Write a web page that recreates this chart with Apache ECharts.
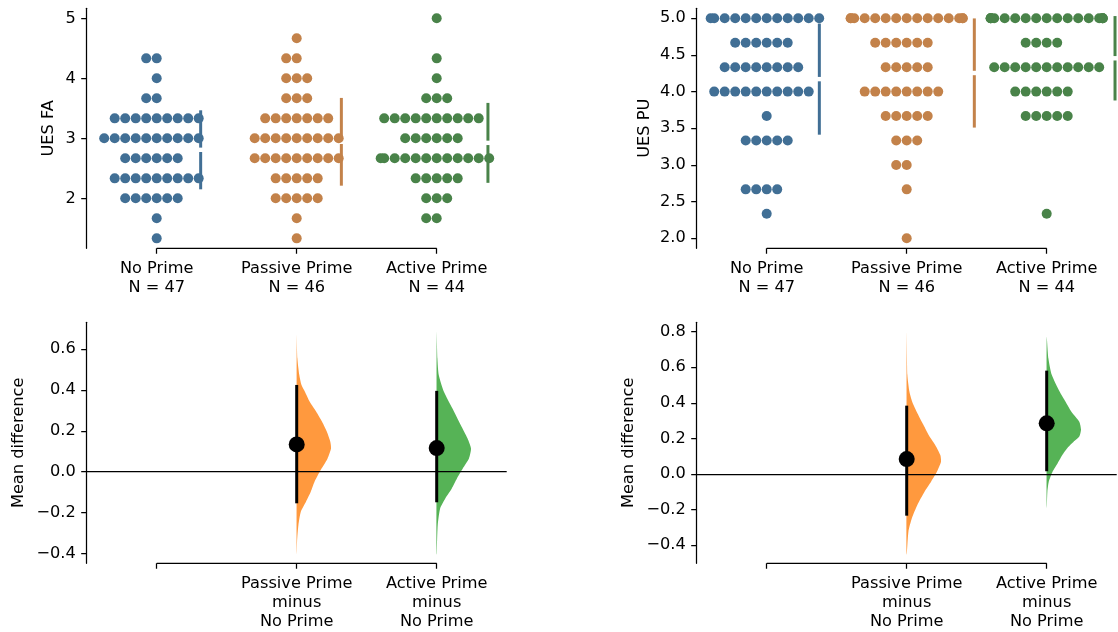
<!DOCTYPE html>
<html>
<head>
<meta charset="utf-8">
<script src="https://cdn.jsdelivr.net/npm/echarts@6/dist/echarts.min.js"></script>
<style>
  html, body { margin: 0; padding: 0; background: #fff; }
  #chart { width: 1118px; height: 632px; }
</style>
</head>
<body>
<div id="chart"></div>
<script>
// ---- data -------------------------------------------------------------
const groups = ['No Prime', 'Passive Prime', 'Active Prime'];

// UES FA: score levels (mean of three items) and number of participants per level
const faLevels  = [1.333, 1.667, 2, 2.333, 2.667, 3, 3.333, 3.667, 4, 4.333, 4.667, 5];
const faNoPrime = [1, 1, 6, 9, 6, 10, 9, 2, 1, 2, 0, 0];
const faPassive = [1, 1, 5, 5, 9, 9, 7, 3, 3, 2, 1, 0];
const faActive  = [0, 2, 3, 5, 12, 6, 10, 3, 1, 1, 0, 1];

// UES PU: score levels and number of participants per level
const puLevels  = [2, 2.333, 2.667, 3, 3.333, 3.667, 4, 4.333, 4.667, 5];
const puNoPrime = [0, 1, 4, 0, 5, 1, 10, 8, 6, 12];
const puPassive = [1, 0, 1, 2, 3, 5, 8, 5, 6, 15];
const puActive  = [0, 1, 0, 0, 0, 5, 6, 11, 4, 17];

// tick labels
const faTicks   = [2, 3, 4, 5];
const puTicks   = [2.0, 2.5, 3.0, 3.5, 4.0, 4.5, 5.0];
const mdFATicks = [-0.4, -0.2, 0.0, 0.2, 0.4, 0.6];
const mdPUTicks = [-0.4, -0.2, 0.0, 0.2, 0.4, 0.6, 0.8];

// 95% bootstrap confidence intervals of the mean difference vs No Prime
const ciFAPassive = [-0.155, 0.425];
const ciFAActive  = [-0.150, 0.396];
const ciPUPassive = [-0.235, 0.384];
const ciPUActive  = [0.015, 0.581];

// bootstrap distributions: [mean difference, relative density]
const bootFAPassive = [[0.671,0],[0.556,0.02],[0.474,0.076],[0.425,0.14],[0.392,0.24],[0.343,0.38],[0.294,0.57],[0.245,0.74],[0.196,0.88],[0.147,0.98],[0.114,1.0],[0.065,0.9],[0.033,0.79],[0.0,0.67],[-0.049,0.52],[-0.098,0.41],[-0.147,0.27],[-0.196,0.12],[-0.261,0.05],[-0.343,0.01],[-0.408,0]];
const bootFAActive  = [[0.686,0],[0.556,0.02],[0.474,0.06],[0.392,0.21],[0.310,0.46],[0.229,0.70],[0.163,0.90],[0.114,1.0],[0.065,0.94],[0.016,0.76],[-0.033,0.59],[-0.082,0.44],[-0.131,0.25],[-0.180,0.10],[-0.261,0.03],[-0.408,0]];
const bootPUPassive = [[0.80,0],[0.556,0.02],[0.462,0.08],[0.406,0.16],[0.350,0.29],[0.275,0.49],[0.219,0.64],[0.163,0.83],[0.106,0.98],[0.069,1.0],[0.012,0.88],[-0.044,0.71],[-0.100,0.52],[-0.175,0.31],[-0.250,0.15],[-0.325,0.05],[-0.456,0]];
const bootPUActive  = [[0.772,0],[0.650,0.05],[0.556,0.15],[0.462,0.38],[0.406,0.55],[0.350,0.72],[0.294,0.95],[0.250,1.0],[0.210,0.95],[0.180,0.78],[0.150,0.62],[0.110,0.47],[0.060,0.32],[0.012,0.17],[-0.044,0.06],[-0.100,0.02],[-0.194,0]];

// ---- layout & style ---------------------------------------------------
const FONT = 'DejaVu Sans';
const FS = 16.2;
const swarmColors = ['#416f95', '#c3824a', '#498349'];
const bootColors = ['#ff993e', '#56b356'];
const DOT_STEP = 0.075;     // horizontal spacing of swarm dots (category units)
const GUTTER = 0.4;         // max swarm half-width
const VIOLIN_W = 0.245;     // half-width of the bootstrap density at its peak
const sdOffsetFA = [0.314, 0.319, 0.366];
const sdOffsetPU = [0.376, 0.483, 0.488];

// ---- helpers ----------------------------------------------------------
function expand(levels, counts) {
  const out = [];
  levels.forEach((v, i) => { for (let k = 0; k < counts[i]; k++) out.push(v); });
  return out;
}
function mean(a) { return a.reduce((s, v) => s + v, 0) / a.length; }
function sd(a) { const m = mean(a); return Math.sqrt(a.reduce((s, v) => s + (v - m) * (v - m), 0) / (a.length - 1)); }

function swarmPoints(levels, counts, gi) {
  const pts = [];
  levels.forEach((v, i) => {
    for (let k = 0; k < counts[i]; k++) {
      const step = k === 0 ? 0 : (k % 2 ? -(k + 1) / 2 : k / 2);
      const dx = Math.max(-GUTTER, Math.min(GUTTER, step * DOT_STEP));
      pts.push([gi + dx, v]);
    }
  });
  return pts;
}

function fmtSigned(v) { return (v < 0 ? '\u2212' : '') + Math.abs(v).toFixed(1); }

const txt = { fontFamily: FONT, fontSize: FS, color: '#000' };
const axisStroke = { color: '#000', width: 1.25 };

function yAxisOf(gridIndex, min, max, ticks, fmt, name, nameGap) {
  return {
    type: 'value', gridIndex, min, max, name,
    nameLocation: 'middle', nameGap, nameRotate: 90,
    nameTextStyle: Object.assign({}, txt),
    axisLine: { show: true, onZero: false, lineStyle: axisStroke },
    axisTick: { show: true, length: 5.5, customValues: ticks, lineStyle: axisStroke },
    axisLabel: Object.assign({ customValues: ticks, formatter: fmt, margin: 11 }, txt),
    splitLine: { show: false }
  };
}
function xAxisOf(gridIndex, tickVals, labelVals, fmt) {
  return {
    type: 'value', gridIndex, min: -0.5, max: 2.5,
    axisLine: { show: false, onZero: false },
    axisTick: { show: true, length: 5.5, customValues: tickVals, lineStyle: axisStroke },
    axisLabel: Object.assign({ customValues: labelVals, formatter: fmt, margin: 10.5, lineHeight: 19.2 }, txt),
    splitLine: { show: false }
  };
}

// ---- series builders --------------------------------------------------
const series = [];

function bracket(axisIdx, yMin) {
  series.push({
    type: 'line', xAxisIndex: axisIdx, yAxisIndex: axisIdx, silent: true, clip: false,
    symbol: 'none', data: [[0, yMin], [2, yMin]],
    lineStyle: { color: '#000', width: 1.25 }, z: 1
  });
}

function swarmPanel(axisIdx, levels, countsList, offsets) {
  countsList.forEach((counts, gi) => {
    series.push({
      type: 'scatter', xAxisIndex: axisIdx, yAxisIndex: axisIdx, silent: true,
      symbol: 'circle', symbolSize: 10,
      itemStyle: { color: swarmColors[gi], opacity: 1 },
      data: swarmPoints(levels, counts, gi), z: 2
    });
    const vals = expand(levels, counts);
    const color = swarmColors[gi];
    series.push({
      type: 'custom', xAxisIndex: axisIdx, yAxisIndex: axisIdx, silent: true, z: 3,
      data: [[gi + offsets[gi], mean(vals), sd(vals)]],
      renderItem(params, api) {
        const x = api.value(0), m = api.value(1), s = api.value(2);
        const top = api.coord([x, m + s]);
        const mid = api.coord([x, m]);
        const bot = api.coord([x, m - s]);
        const gap = 2.2;
        const st = { stroke: color, lineWidth: 3 };
        return { type: 'group', children: [
          { type: 'line', shape: { x1: top[0], y1: top[1], x2: mid[0], y2: mid[1] - gap }, style: st },
          { type: 'line', shape: { x1: mid[0], y1: mid[1] + gap, x2: bot[0], y2: bot[1] }, style: st }
        ]};
      }
    });
  });
}

function effectPanel(axisIdx, control, tests, cis, boots) {
  const ctrlMean = mean(control);
  tests.forEach((vals, j) => {
    const x = j + 1;
    const prof = boots[j];
    const color = bootColors[j];
    series.push({
      type: 'custom', xAxisIndex: axisIdx, yAxisIndex: axisIdx, silent: true, z: 2,
      data: [[x]],
      renderItem(params, api) {
        const cx = api.value(0);
        const pts = prof.map(p => api.coord([cx + p[1] * VIOLIN_W, p[0]]));
        const top = api.coord([cx, prof[0][0]]);
        const bot = api.coord([cx, prof[prof.length - 1][0]]);
        const mid = [top[0], (top[1] + bot[1]) / 2];
        const poly = pts.concat([mid]);
        return { type: 'polygon', shape: { points: poly, smooth: 0.2 }, style: { fill: color } };
      }
    });
    const ci = cis[j];
    const lineSeries = {
      type: 'custom', xAxisIndex: axisIdx, yAxisIndex: axisIdx, silent: true, z: 4,
      data: [[x, ci[0], ci[1]]],
      renderItem(params, api) {
        const a = api.coord([api.value(0), api.value(1)]);
        const b = api.coord([api.value(0), api.value(2)]);
        return { type: 'line', shape: { x1: a[0], y1: a[1], x2: b[0], y2: b[1] }, style: { stroke: '#000', lineWidth: 3 } };
      }
    };
    if (j === 0) {
      lineSeries.markLine = {
        silent: true, symbol: 'none', label: { show: false },
        lineStyle: { color: '#000', width: 1.25, type: 'solid', opacity: 1 },
        data: [{ yAxis: 0 }]
      };
    }
    series.push(lineSeries);
    series.push({
      type: 'scatter', xAxisIndex: axisIdx, yAxisIndex: axisIdx, silent: true, z: 5,
      symbol: 'circle', symbolSize: 16, itemStyle: { color: '#000', opacity: 1 },
      data: [[x, mean(vals) - ctrlMean]]
    });
  });
}

// ---- assemble ---------------------------------------------------------
const faLists = [faNoPrime, faPassive, faActive];
const puLists = [puNoPrime, puPassive, puActive];
const nFA = faLists.map(c => c.reduce((s, v) => s + v, 0));
const nPU = puLists.map(c => c.reduce((s, v) => s + v, 0));

const yRange = {
  fa: [1.167, 5.167], pu: [1.863, 5.136], mdFA: [-0.449, 0.732], mdPU: [-0.503, 0.853]
};

swarmPanel(0, faLevels, faLists, sdOffsetFA);
bracket(0, yRange.fa[0]);
swarmPanel(1, puLevels, puLists, sdOffsetPU);
bracket(1, yRange.pu[0]);

const faVals = faLists.map(c => expand(faLevels, c));
const puVals = puLists.map(c => expand(puLevels, c));
effectPanel(2, faVals[0], [faVals[1], faVals[2]], [ciFAPassive, ciFAActive], [bootFAPassive, bootFAActive]);
bracket(2, yRange.mdFA[0]);
effectPanel(3, puVals[0], [puVals[1], puVals[2]], [ciPUPassive, ciPUActive], [bootPUPassive, bootPUActive]);
bracket(3, yRange.mdPU[0]);

const topLabel = ns => v => { const i = Math.round(v); return groups[i] + '\nN = ' + ns[i]; };
const diffLabel = v => { const i = Math.round(v); return groups[i] + '\nminus\n' + groups[0]; };

const option = {
  animation: false,
  backgroundColor: '#fff',
  grid: [
    { left: 86.7, top: 8.3, width: 420, height: 240, containLabel: false },
    { left: 696.7, top: 8.3, width: 420, height: 240, containLabel: false },
    { left: 86.7, top: 322.3, width: 420, height: 241, containLabel: false },
    { left: 696.7, top: 322.3, width: 420, height: 241, containLabel: false }
  ],
  xAxis: [
    xAxisOf(0, [0, 1, 2], [0, 1, 2], topLabel(nFA)),
    xAxisOf(1, [0, 1, 2], [0, 1, 2], topLabel(nPU)),
    xAxisOf(2, [0, 1, 2], [1, 2], diffLabel),
    xAxisOf(3, [0, 1, 2], [1, 2], diffLabel)
  ],
  yAxis: [
    yAxisOf(0, yRange.fa[0], yRange.fa[1], faTicks, v => String(v), 'UES FA', 30),
    yAxisOf(1, yRange.pu[0], yRange.pu[1], puTicks, v => v.toFixed(1), 'UES PU', 44),
    yAxisOf(2, yRange.mdFA[0], yRange.mdFA[1], mdFATicks, fmtSigned, 'Mean difference', 60),
    yAxisOf(3, yRange.mdPU[0], yRange.mdPU[1], mdPUTicks, fmtSigned, 'Mean difference', 60)
  ],
  series
};

const chart = echarts.init(document.getElementById('chart'), null, { renderer: 'canvas' });
chart.setOption(option);
</script>
</body>
</html>
